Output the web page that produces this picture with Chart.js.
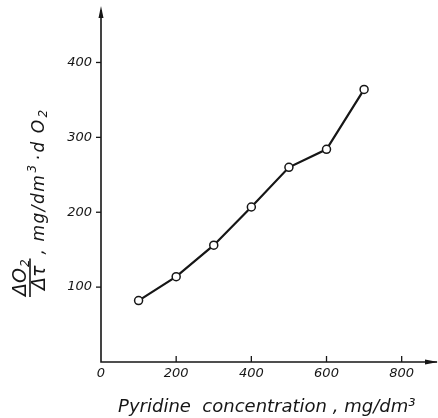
<!DOCTYPE html>
<html>
<head>
<meta charset="utf-8">
<script src="https://cdn.jsdelivr.net/npm/chart.js@4.4.1/dist/chart.umd.min.js"></script>
<style>
  html, body { margin: 0; padding: 0; background: #fff; }
  #wrap { width: 438px; height: 418px; }
</style>
</head>
<body>
<div id="wrap"><canvas id="chart"></canvas></div>
<script>
/* pyridine concentration vs oxygen uptake rate */

const concentration = [100, 200, 300, 400, 500, 600, 700];
const oxygenRate = [82, 114, 156, 207, 260, 284, 364];
const xTicks = [0, 200, 400, 600, 800];
const yTicks = [100, 200, 300, 400];
const xTitle = 'Pyridine  concentration , mg/dm³';

const INK = '#161616';
const FONT = "'DejaVu Sans', sans-serif";

// axis lines with arrowheads, inward x ticks, outward y ticks
const axisPlugin = {
  id: 'axisMarks',
  afterDraw(chart) {
    const ctx = chart.ctx;
    const a = chart.chartArea;
    const xs = chart.scales.x, ys = chart.scales.y;
    ctx.save();
    ctx.strokeStyle = INK;
    ctx.fillStyle = INK;
    ctx.lineWidth = 1.6;
    ctx.beginPath();
    ctx.moveTo(a.left, 10);
    ctx.lineTo(a.left, a.bottom);
    ctx.lineTo(437, a.bottom);
    ctx.stroke();

    // arrow heads
    ctx.beginPath();
    ctx.moveTo(a.left, 6);
    ctx.lineTo(a.left - 2.5, 18);
    ctx.lineTo(a.left + 2.5, 18);
    ctx.closePath();
    ctx.fill();
    ctx.beginPath();
    ctx.moveTo(438, a.bottom);
    ctx.lineTo(425, a.bottom - 2.5);
    ctx.lineTo(425, a.bottom + 2.5);
    ctx.closePath();
    ctx.fill();

    ctx.lineWidth = 1.3;
    xTicks.forEach(function(v) {
      if (v === 0) return;
      const px = xs.getPixelForValue(v);
      ctx.beginPath();
      ctx.moveTo(px, a.bottom);
      ctx.lineTo(px, a.bottom - 6);
      ctx.stroke();
    });
    yTicks.forEach(function(v) {
      const py = ys.getPixelForValue(v);
      ctx.beginPath();
      ctx.moveTo(a.left - 5, py);
      ctx.lineTo(a.left, py);
      ctx.stroke();
    });
    ctx.restore();
  },
};

// y title: fraction dO2/dtau followed by units, rotated
function drawRuns(ctx, runs, u, v) {
  runs.forEach(function(r) {
    ctx.font = 'oblique ' + r.size + 'px ' + FONT;
    ctx.fillText(r.t, u, v + (r.dy || 0));
    u += ctx.measureText(r.t).width + (r.gap || 0);
  });
  return u;
}
function runsWidth(ctx, runs) {
  let w = 0;
  runs.forEach(function(r) {
    ctx.font = 'oblique ' + r.size + 'px ' + FONT;
    w += ctx.measureText(r.t).width + (r.gap || 0);
  });
  return w;
}

const yTitlePlugin = {
  id: 'yTitle',
  afterDraw(chart) {
    const ctx = chart.ctx;
    ctx.save();
    ctx.fillStyle = INK;
    ctx.strokeStyle = INK;
    ctx.textAlign = 'left';
    ctx.textBaseline = 'alphabetic';
    ctx.translate(0, 297);
    ctx.rotate(-Math.PI / 2);

    const num = [{ t: 'ΔO', size: 19, gap: 1 }, { t: '2', size: 12, dy: 3 }];
    const den = [{ t: 'Δτ', size: 19 }];
    const nw = runsWidth(ctx, num), dw = runsWidth(ctx, den);
    const fw = Math.max(nw, dw) + 2;
    drawRuns(ctx, num, (fw - nw) / 2, 26);
    drawRuns(ctx, den, (fw - dw) / 2, 45);
    ctx.lineWidth = 1.6;
    ctx.beginPath();
    ctx.moveTo(0, 30);
    ctx.lineTo(fw, 30);
    ctx.stroke();

    ctx.letterSpacing = '1.5px';
    const units = [
      { t: ',', size: 17, gap: 6 },
      { t: 'mg/dm', size: 17, gap: 1 },
      { t: '3', size: 12, dy: -8, gap: 3 },
      { t: '·', size: 17, gap: 1 },
      { t: 'd O', size: 17, gap: 1 },
      { t: '2', size: 12, dy: 3 },
    ];
    drawRuns(ctx, units, fw + 4, 44);
    ctx.restore();
  },
};

new Chart(document.getElementById('chart'), {
  type: 'line',
  data: {
    datasets: [
      {
        data: concentration.map(function(c, i) { return { x: c, y: oxygenRate[i] }; }),
        borderColor: INK,
        borderWidth: 2.2,
        pointRadius: 4,
        pointBorderWidth: 1.5,
        pointBackgroundColor: '#fff',
        pointBorderColor: INK,
        tension: 0,
        clip: false,
      },
    ],
  },
  options: {
    responsive: true,
    maintainAspectRatio: false,
    animation: false,
    events: [],
    layout: { padding: { top: 14, right: 2, left: 0, bottom: 0 } },
    plugins: { legend: { display: false }, tooltip: { enabled: false } },
    scales: {
      x: {
        type: 'linear',
        min: 0,
        max: 882,
        afterBuildTicks(scale) { scale.ticks = xTicks.map(function(v) { return { value: v }; }); },
        afterFit(scale) { scale.height = 56; },
        grid: { display: false, drawTicks: false },
        border: { display: false },
        ticks: { color: INK, padding: 4, maxRotation: 0, font: { family: FONT, size: 13, style: 'oblique' } },
        title: {
          display: true,
          text: xTitle,
          color: INK,
          padding: { top: 2, bottom: 0 },
          font: { family: FONT, size: 18, style: 'oblique' },
        },
      },
      y: {
        min: 0,
        max: 461,
        afterBuildTicks(scale) { scale.ticks = yTicks.map(function(v) { return { value: v }; }); },
        afterFit(scale) { scale.width = 101; },
        grid: { display: false, drawTicks: false },
        border: { display: false },
        ticks: { color: INK, padding: 9, font: { family: FONT, size: 13, style: 'oblique' } },
      },
    },
  },
  plugins: [axisPlugin, yTitlePlugin],
});
</script>
</body>
</html>
